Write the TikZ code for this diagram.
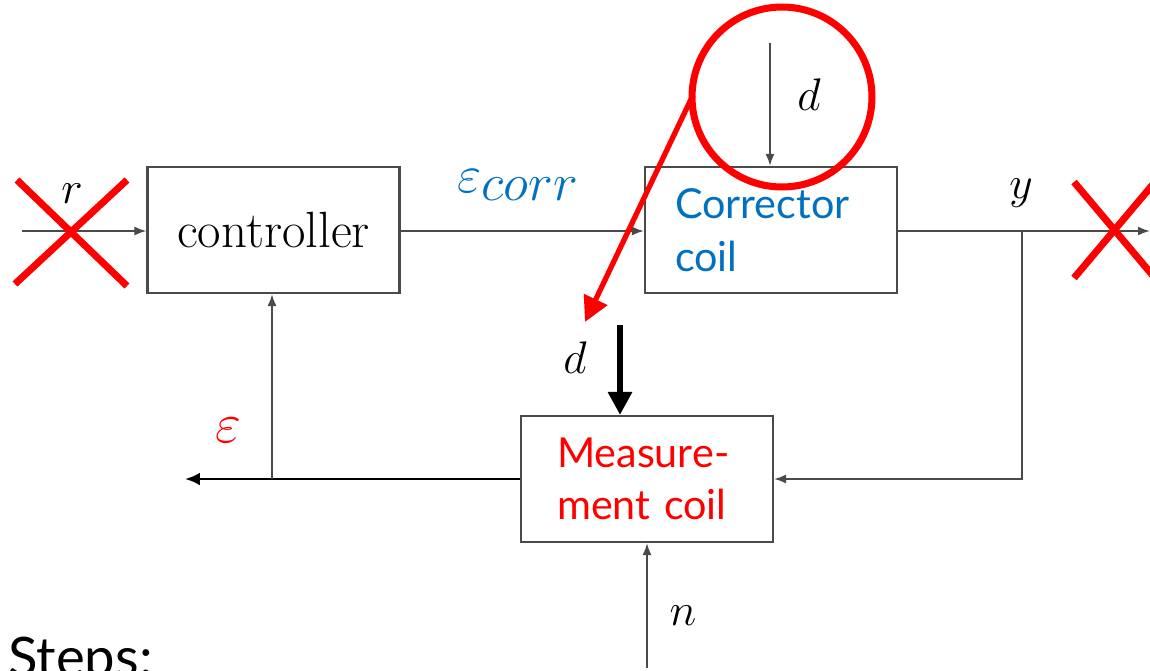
\documentclass[tikz,border=0pt]{standalone}
\usepackage{fix-cm}
\usepackage{amsmath}
\usepackage{fontspec}
\usepackage{tikz}
\usetikzlibrary{arrows.meta,positioning,calc}
\newfontfamily\gillfont{Lato}
\definecolor{cblue}{HTML}{0070C0}
\definecolor{cred}{HTML}{FF0000}
\definecolor{cline}{HTML}{4A4A4A}
\tikzset{
 blockbox/.style={draw=cline, line width=1.2pt, minimum width=5.04cm, minimum height=2.52cm, inner ysep=0pt},
 sig/.style={draw=cline, line width=1.1pt, -{Latex[length=2.4mm,width=1.8mm]}},
 mathlab/.style={font=\fontsize{26}{30}\selectfont, inner sep=0pt},
 coiltext/.style={font=\gillfont\fontsize{23.5}{30}\selectfont, align=left},
 redmark/.style={cred, line width=4pt},
}

\begin{document}
\begin{tikzpicture}[x=0.02cm, y=-0.02cm]
 \useasboundingbox (0,0) rectangle (1150,670);
 % blocks
 \node[blockbox, font=\fontsize{29}{32}\selectfont] (ctrl) at (273.5,230) {controller};
 \node[blockbox, coiltext, text=cblue, text width=3.84cm, inner xsep=0.6cm] (corr) at (771,230) {Corrector\\coil};
 \node[blockbox, coiltext, text=cred, text width=3.6cm, inner xsep=0.72cm] (meas) at (647,479) {Measure-\\ment coil};
 % signal points
 \coordinate (rin) at (22,231);
 \coordinate (yout) at (1150,231);
 \coordinate (tap) at (1022,231);
 \coordinate (join) at (272,479);
 \coordinate (eout) at (185,479);
 \coordinate (dtop) at (770,43);
 \coordinate (nbot) at (647,668);
 \coordinate (dmeas) at (620,325);
 % connectors
 \draw[sig] (rin) -- (rin -| ctrl.west);
 \draw[sig] (ctrl.east |- rin) -- (rin -| corr.west);
 \draw[sig] (corr.east |- yout) -- (yout);
 \draw[sig] (tap) |- (meas.east);
 \draw[black, line width=1.6pt, -{Latex[length=3mm,width=2.6mm]}] (meas.west) -- (eout);
 \draw[sig] (join) -- (join |- ctrl.south);
 \draw[sig] (dtop) -- (dtop |- corr.north);
 \draw[sig] (nbot) -- (meas.south);
 \draw[black, line width=3.6pt, -{Triangle[length=4.6mm,width=4.6mm]}] (dmeas) -- (dmeas |- meas.north);
 % labels
 \node[mathlab] (rlab) at (72,194) {$r$};
 \node[mathlab] (ylab) at (1021,193) {$y$};
 \node[mathlab] (dlab) at (809,95) {$d$};
 \node[mathlab] (dlab2) at (575,358) {$d$};
 \node[mathlab] (nlab) at (683,616) {$n$};
 \node[font=\fontsize{30}{34}\selectfont, text=cblue, inner sep=0pt] (ecorr) at (518,185) {$\varepsilon_{\textstyle corr}$};
 \node[font=\fontsize{32}{36}\selectfont, text=cred, inner sep=0pt] (elab) at (228,430) {$\varepsilon$};
 % red marks
 \draw[redmark] (17,180) -- (127,286);
 \draw[redmark] (127,180) -- (15,284);
 \draw[redmark] (1074,182) -- (1165,290);
 \draw[redmark] (1074,278) -- (1165,170);
 \draw[redmark] (782,97) circle (1.8cm);
 \coordinate (cfrom) at (693,95);
 \coordinate (cto) at (585,322);
 \draw[cred, line width=3pt, -{Triangle[length=5mm,width=5mm]}] (cfrom) -- (cto);
 % steps
 \node[anchor=base west, font=\gillfont\fontsize{31}{36}\selectfont, inner sep=0pt] (steps) at (8,676) {Steps:};
\end{tikzpicture}
\end{document}
